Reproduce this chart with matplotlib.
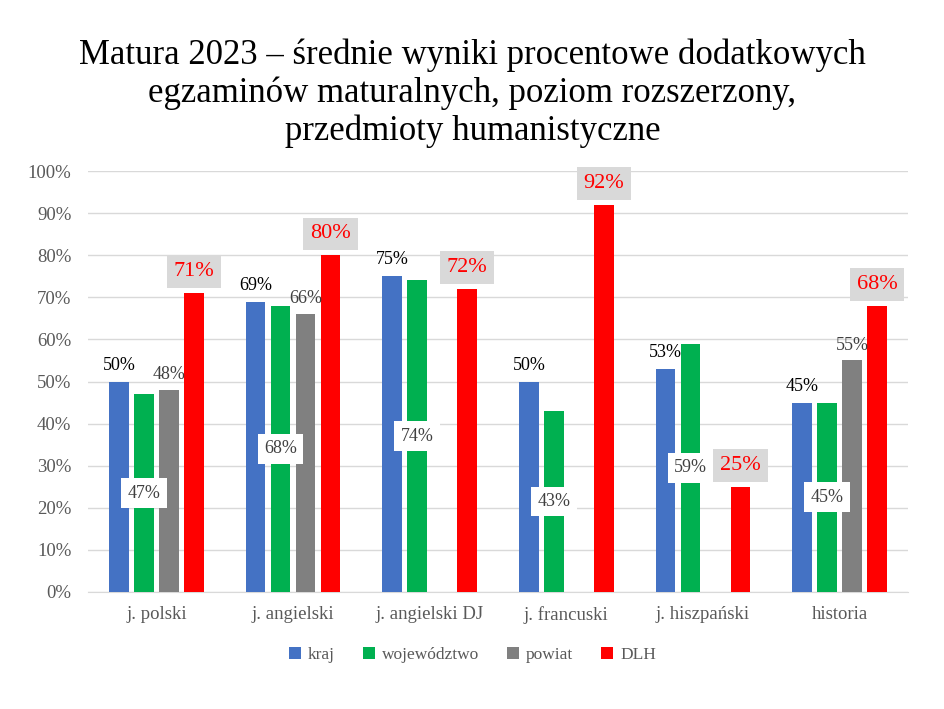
import numpy as np
import matplotlib.pyplot as plt
from matplotlib.ticker import PercentFormatter

categories = ["j. polski", "j. angielski", "j. angielski DJ", "j. francuski", "j. hiszpański", "historia"]
kraj = [50, 69, 75, 50, 53, 45]
wojewodztwo = [47, 68, 74, 43, 59, 45]
powiat = [48, 66, np.nan, np.nan, np.nan, 55]
dlh = [71, 80, 72, 92, 25, 68]

series_names = ["kraj", "województwo", "powiat", "DLH"]
colors = ["#4472c4", "#00b050", "#808080", "#ff0000"]
title_lines = [
    "Matura 2023 – średnie wyniki procentowe dodatkowych",
    "egzaminów maturalnych, poziom rozszerzony,",
    "przedmioty humanistyczne",
]

plt.rcParams["font.family"] = ["Liberation Serif", "DejaVu Serif"]

fig = plt.figure(figsize=(9.45, 7.09), dpi=100)
ax = fig.add_axes([88 / 945, 1 - 592 / 709, 820 / 945, 421 / 709])

x = np.arange(len(categories))
width = 0.145
step = 0.183
series = [kraj, wojewodztwo, powiat, dlh]

for i, (vals, col, name) in enumerate(zip(series, colors, series_names)):
    pos = x + (i - 1.5) * step
    ax.bar(pos, vals, width=width, color=col, label=name, zorder=3)
    for p, v in zip(pos, vals):
        if np.isnan(v):
            continue
        txt = f"{v:.0f}%"
        if name == "kraj":
            ax.text(p, v + 2.8, txt, ha="center", va="baseline", fontsize=13, color="#000000", zorder=4)
        elif name == "powiat":
            ax.text(p, v + 2.6, txt, ha="center", va="baseline", fontsize=13, color="#404040", zorder=4)
        elif name == "województwo":
            ax.text(p, v / 2, txt, ha="center", va="center", fontsize=13, color="#404040", zorder=4,
                    bbox=dict(boxstyle="square,pad=0.35", fc="white", ec="none"))
        else:
            ax.text(p, v + 2.8, txt, ha="center", va="bottom", fontsize=16, color="#ff0000", zorder=4,
                    bbox=dict(boxstyle="square,pad=0.3", fc="#d9d9d9", ec="none"))

ax.set_xlim(-0.5, len(categories) - 0.5)
ax.set_ylim(0, 100)
ax.set_yticks(np.arange(0, 101, 10))
ax.yaxis.set_major_formatter(PercentFormatter(decimals=0))
ax.set_xticks(x)
ax.set_xticklabels(categories)
ax.tick_params(axis="both", length=0, labelsize=13.5, colors="#595959")
ax.tick_params(axis="y", pad=12)
ax.tick_params(axis="x", pad=10)
ax.grid(axis="y", color="#d9d9d9", linewidth=1, zorder=0)
for s in ["top", "right", "left"]:
    ax.spines[s].set_visible(False)
ax.spines["bottom"].set_color("#d9d9d9")

for k, line in enumerate(title_lines):
    fig.text(0.5, 1 - (64 + 38 * k) / 709, line, ha="center", va="baseline", fontsize=25, color="#000000")

fig.legend(loc="center", bbox_to_anchor=(0.5, 1 - 655 / 709), ncol=4, frameon=False, fontsize=12.5,
           handlelength=0.7, handleheight=0.7, handletextpad=0.4, columnspacing=1.6, labelcolor="#595959")

fig.savefig("out.png", dpi=100)
